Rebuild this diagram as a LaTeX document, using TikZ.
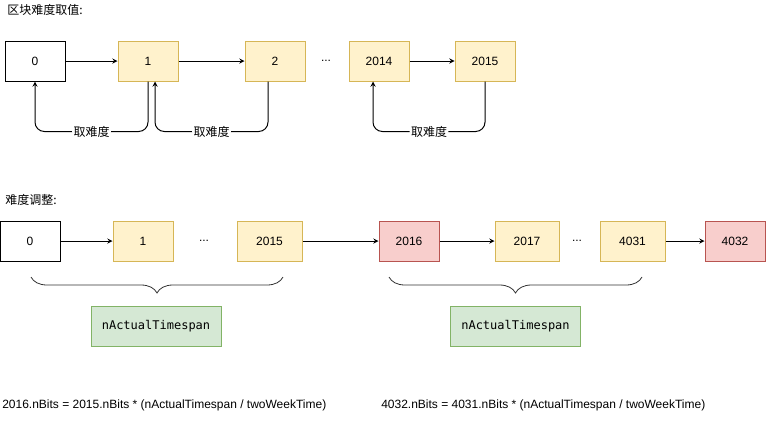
\documentclass[tikz,border=0pt]{standalone}
\usepackage{fontspec}
\setmainfont{Liberation Sans}
\setmonofont{DejaVu Sans Mono}
\newfontfamily\cjk{Noto Sans CJK SC}
\usepackage{xcolor}
\usetikzlibrary{positioning, decorations.pathreplacing}

\definecolor{blkfill}{HTML}{FFF2CC}
\definecolor{blkline}{HTML}{D6B656}
\definecolor{adjfill}{HTML}{F8CECC}
\definecolor{adjline}{HTML}{B85450}
\definecolor{spanfill}{HTML}{D5E8D4}
\definecolor{spanline}{HTML}{82B366}

\tikzset{
	txt/.style={font=\fontsize{9}{11}\selectfont, inner sep=0pt},
	blk/.style={draw, line width=0.75pt, minimum width=45pt, minimum height=30pt, txt},
	plain/.style={blk, fill=white, draw=black},
	yel/.style={blk, fill=blkfill, draw=blkline},
	adj/.style={blk, fill=adjfill, draw=adjline},
	span/.style={blk, fill=spanfill, draw=spanline, minimum width=97.5pt, font=\fontsize{9}{11}\selectfont\ttfamily},
	nxt/.style={-stealth, line width=0.75pt},
	fb/.style={-stealth, line width=0.75pt, rounded corners=7pt},
	lbl/.style={fill=white, inner sep=1pt, font=\fontsize{9}{11}\selectfont\cjk},
	brc/.style={decorate, decoration={brace, mirror, amplitude=12pt}, line width=0.6pt, draw=black!80}
}

\begin{document}
\begin{tikzpicture}[x=0.75pt, y=-0.75pt]
		\useasboundingbox (0,0) rectangle (766,422);

		% first row
		\node[txt, anchor=west] (title1) at (7,10) {\cjk 区块难度取值:};
		\node[plain] (b0) at (35,61) {0};
		\node[yel] (b1) at (148,61) {1};
		\node[yel] (b2) at (275,61) {2};
		\node[txt] (bdots) at (326,61) {...};
		\node[yel] (b2014) at (379,61) {2014};
		\node[yel] (b2015) at (485,61) {2015};

		\begin{scope}[nxt]
			\draw (b0) -- (b1);
			\draw (b1) -- (b2);
			\draw (b2014) -- (b2015);
		\end{scope}

		\draw[fb] (b1.south) -- ++(0,50) -| node[pos=0.25, lbl] {取难度} (b0.south);
		\draw[fb] ([xshift=-5.25pt]b2.south) -- ++(0,50) -| node[pos=0.25, lbl] {取难度} ([xshift=5.25pt]b1.south);
		\draw[fb] (b2015.south) -- ++(0,50) -| node[pos=0.25, lbl] {取难度} ([xshift=-4.5pt]b2014.south);

		% second row
		\node[txt, anchor=west] (title2) at (5,200) {\cjk 难度调整:};
		\node[plain] (c0) at (30,241) {0};
		\node[yel] (c1) at (143,241) {1};
		\node[txt] (cdots1) at (204,241) {...};
		\node[yel, minimum width=48.75pt] (c2015) at (269.5,241) {2015};
		\node[adj] (c2016) at (409,241) {2016};
		\node[yel, minimum width=48pt] (c2017) at (527,241) {2017};
		\node[txt] (cdots2) at (577,241) {...};
		\node[yel, minimum width=48.75pt] (c4031) at (632.5,241) {4031};
		\node[adj] (c4032) at (735,241) {4032};

		\begin{scope}[nxt]
			\draw (c0) -- (c1);
			\draw (c2015) -- (c2016);
			\draw (c2016) -- (c2017);
			\draw (c4031) -- (c4032);
		\end{scope}

		\coordinate (brA1) at (31,277);
		\coordinate (brA2) at (283,277);
		\coordinate (brB1) at (389,277);
		\coordinate (brB2) at (642,277);
		\draw[brc] (brA1) -- (brA2);
		\draw[brc] (brB1) -- (brB2);

		\node[span] (span1) at (156,326) {nActualTimespan};
		\node[span] (span2) at (515.5,326) {nActualTimespan};

		\node[txt, anchor=west] (calc1) at (2,405) {2016.nBits = 2015.nBits * (nActualTimespan / twoWeekTime)};
		\node[txt, anchor=west] (calc2) at (381,405) {4032.nBits = 4031.nBits * (nActualTimespan / twoWeekTime)};
	\end{tikzpicture}
\end{document}
